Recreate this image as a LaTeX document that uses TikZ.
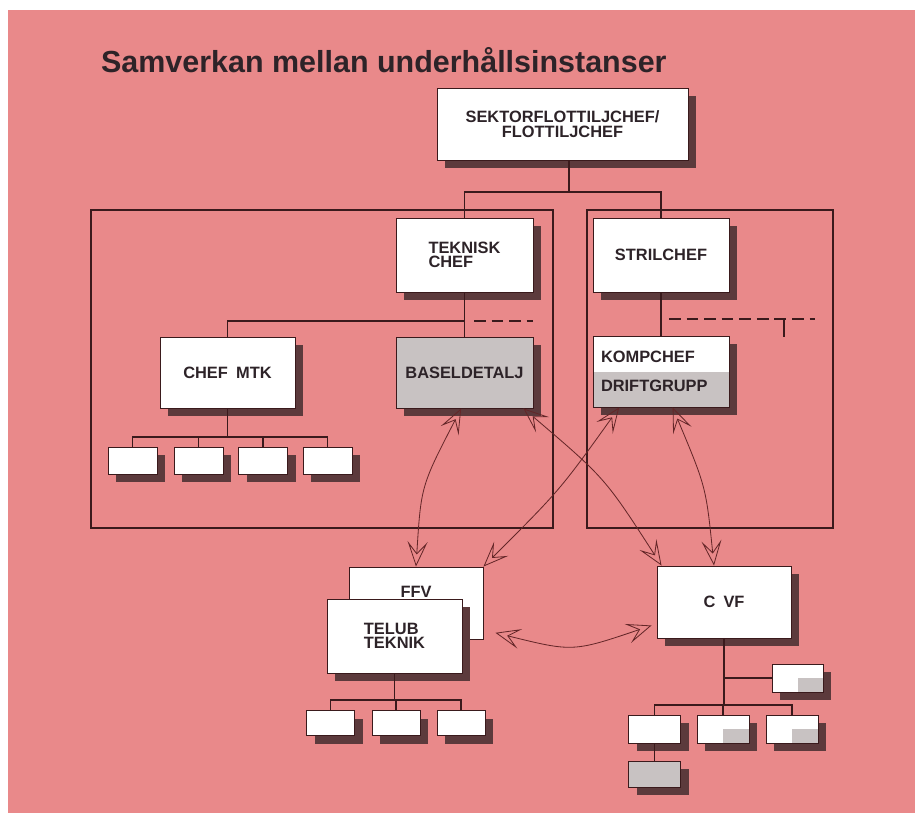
\documentclass[tikz,border=0pt]{standalone}
\usepackage{fontspec}
\setmainfont{Liberation Sans}
\usetikzlibrary{arrows.meta,shadows}

\definecolor{pinkbg}{RGB}{233,137,138}
\definecolor{inkline}{RGB}{58,26,28}
\definecolor{shadowc}{RGB}{92,58,60}
\definecolor{stipple}{RGB}{200,194,194}
\definecolor{arrowc}{RGB}{100,38,40}
\definecolor{textc}{RGB}{45,35,40}

\begin{document}
\begin{tikzpicture}[x=0.03cm, y=-0.03cm, every node/.style={font=\bfseries\fontsize{14}{12.5}\selectfont, text=textc}]

		% Styles for the boxes and lines
		\tikzset{
			plainbox/.style={draw=inkline, fill=white, line width=0.8pt, inner sep=0pt, align=left},
			unitbox/.style={plainbox, drop shadow={shadow xshift=0.24cm, shadow yshift=-0.24cm, fill=shadowc, opacity=1}},
			bigbox/.style={unitbox, minimum width=4.08cm, minimum height=2.16cm},
			smallbox/.style={unitbox, minimum width=1.56cm, minimum height=0.84cm},
			grey box/.style={fill=stipple},
			half grey/.style={path picture={\fill[stipple] (path picture bounding box.center) rectangle (path picture bounding box.south east);}},
			low grey/.style={path picture={\fill[stipple] (path picture bounding box.west) rectangle (path picture bounding box.south east);}},
			frame/.style={draw=inkline, line width=0.9pt},
			link/.style={draw=inkline, line width=0.9pt},
			wire/.style={arrowc, line width=0.7pt, {Stealth[open,length=7.5mm,width=6mm,inset=3.5mm]}-{Stealth[open,length=7.5mm,width=6mm,inset=3.5mm]}}
		}

		% Page and pink sheet
		\useasboundingbox (0,0) rectangle (915,813);
		\fill[white] (0,0) rectangle (915,813);
		\fill[pinkbg] (8,10) rectangle (915,813);

		% Title
		\node[font=\bfseries\fontsize{26}{30}\selectfont, anchor=base west] (title) at (97,72) {Samverkan mellan underhållsinstanser};

		% The two frames
		\draw[frame] (91,210) rectangle (553,528);
		\draw[frame] (587,210) rectangle (833,528);

		% Top level
		\node[unitbox, minimum width=7.53cm, minimum height=2.16cm, align=center] (sektor) at (562.5,124) {SEKTORFLOTTILJCHEF/\\FLOTTILJCHEF};

		% Second level
		\node[bigbox, minimum width=4.11cm, minimum height=2.22cm] (teknisk) at (464.5,255) {TEKNISK\\CHEF};
		\node[bigbox, minimum height=2.22cm] (stril) at (661,255) {STRILCHEF};

		% Third level
		\node[bigbox, minimum width=4.05cm, minimum height=2.13cm] (chefmtk) at (227.5,372.5) {CHEF\enspace MTK};
		\node[bigbox, grey box, minimum width=4.11cm, minimum height=2.13cm] (basel) at (464.5,372.5) {BASELDETALJ};
		\node[bigbox, low grey, minimum height=2.13cm, text width=3.6cm] (komp) at (661,371.5) {KOMPCHEF\\[0.45cm]DRIFTGRUPP};

		% Units under CHEF MTK
		\foreach \xpos [count=\k] in {132.5,198.5,263,327.5}
			\node[smallbox, minimum width=1.47cm, minimum height=0.81cm] (mtk\k) at (\xpos,460.5) {};

		% Industry
		\node[plainbox, minimum width=4.02cm, minimum height=2.16cm, label={[yshift=0.33cm]center:FFV}] (ffv) at (416,603) {};
		\node[bigbox, minimum width=4.05cm, minimum height=2.22cm] (telub) at (394.5,636) {TELUB\\TEKNIK};
		\foreach \xpos [count=\k] in {330.5,396,461}
			\node[smallbox, minimum width=1.44cm, minimum height=0.75cm] (tel\k) at (\xpos,723) {};

		% C VF and its units
		\node[bigbox, minimum width=4.02cm] (cvf) at (724,602) {C\enspace VF};
		\node[smallbox, half grey, minimum width=1.53cm] (cvfside) at (797.5,678) {};
		\node[smallbox] (cvf1) at (654.5,729) {};
		\node[smallbox, half grey] (cvf2) at (723,729) {};
		\node[smallbox, half grey] (cvf3) at (792,729) {};
		\node[smallbox, grey box, minimum height=0.78cm] (cvf4) at (654.5,774) {};

		% Tree lines
		\coordinate (topfork) at (569,192);
		\draw[link] (sektor.south -| topfork) -- (topfork);
		\draw[link] (teknisk.north) |- (topfork) -| (stril.north);
		\draw[link] (teknisk.south) -- (basel.north);
		\coordinate (mtkfork) at (464.5,321);
		\draw[link] (chefmtk.north) |- (mtkfork);
		\draw[link] (stril.south) -- (komp.north);

		% Dashed links
		\coordinate (dashA1) at (474,321);
		\coordinate (dashA2) at (533,321);
		\coordinate (dashB1) at (669,319);
		\coordinate (dashB2) at (815,319);
		\coordinate (tickend) at (784,337);
		\draw[link, dash pattern=on 10pt off 5pt] (dashA1) -- (dashA2);
		\draw[link, dash pattern=on 10pt off 5pt] (dashB1) -- (dashB2);
		\draw[link] (dashB1 -| tickend) -- (tickend);

		% Buses to the small boxes
		\coordinate (mtkbus) at (230,437);
		\draw[link] (chefmtk.south) -- (chefmtk.south |- mtkbus);
		\foreach \k in {1,...,4}
			\draw[link] (mtk\k.north) |- (mtkbus);
		\coordinate (telbus) at (396,700);
		\draw[link] (telub.south) -- (telub.south |- telbus);
		\foreach \k in {1,...,3}
			\draw[link] (tel\k.north) |- (telbus);
		\coordinate (cvfbus) at (724,705);
		\draw[link] (cvf.south) -- (cvfbus);
		\foreach \k in {1,...,3}
			\draw[link] (cvf\k.north) |- (cvfbus);
		\draw[link] (cvfside.west) -- (cvfside.west -| cvf.south);
		\draw[link] (cvf1.south) -- (cvf4.north);

		% Cooperation arrows
		\draw[wire] ([xshift=-0.1cm]basel.south) .. controls (421,486) .. (ffv.north);
		\draw[wire] ([xshift=-0.3cm]basel.south east) .. controls (605,478) .. ([xshift=0.15cm]cvf.north west);
		\draw[wire] ([xshift=0.8cm]komp.south west) .. controls (560,490) .. (ffv.north east);
		\draw[wire] ([xshift=0.35cm]komp.south) .. controls (706,487) .. ([xshift=-0.3cm]cvf.north);
		\draw[wire] ([shift={(0.36cm,0.2cm)}]ffv.south east) .. controls (573,652) .. ([shift={(-0.15cm,0.39cm)}]cvf.south west);
	\end{tikzpicture}
\end{document}
